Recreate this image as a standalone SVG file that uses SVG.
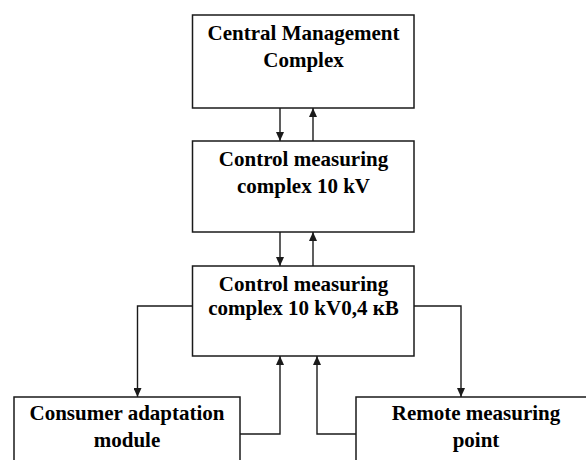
<svg xmlns="http://www.w3.org/2000/svg" width="586" height="460" viewBox="0 0 586 460">
<style>
.box{fill:#fff;stroke:#1a1a1a;stroke-width:1.5}
.lbl{font-family:"Liberation Serif","Times New Roman",serif;font-weight:bold;font-size:21px;fill:#000;text-anchor:middle}
.con{fill:none;stroke:#1a1a1a;stroke-width:1.4;marker-end:url(#ah)}
</style>
<defs>
<marker id="ah" markerUnits="userSpaceOnUse" markerWidth="10" markerHeight="8" refX="9" refY="4" orient="auto">
<path d="M0,0 L9,4 L0,8 z" fill="#1a1a1a"/>
</marker>
</defs>
<rect width="586" height="460" fill="#fff"/>
<g id="cmc">
<rect class="box" x="192.5" y="15" width="221.5" height="93"/>
<text class="lbl" x="303.5" y="39.5">Central Management</text>
<text class="lbl" x="303.5" y="67">Complex</text>
</g>
<g id="cmc10">
<rect class="box" x="192.5" y="141" width="221.5" height="91"/>
<text class="lbl" x="303.5" y="165.5">Control measuring</text>
<text class="lbl" x="303.5" y="193">complex 10 kV</text>
</g>
<g id="cmc04">
<rect class="box" x="192.5" y="266" width="221.5" height="90"/>
<text class="lbl" x="303.5" y="290.5">Control measuring</text>
<text class="lbl" x="303.5" y="315">complex 10 kV0,4 кВ</text>
</g>
<g id="cam">
<rect class="box" x="14" y="397" width="226" height="80"/>
<text class="lbl" x="127" y="420">Consumer adaptation</text>
<text class="lbl" x="127" y="446.5">module</text>
</g>
<g id="rmp">
<rect class="box" x="356" y="397" width="240" height="80"/>
<text class="lbl" x="476" y="420">Remote measuring</text>
<text class="lbl" x="476" y="446.5">point</text>
</g>
<g id="connectors">
<path class="con" d="M280,108 V141"/>
<path class="con" d="M313,141 V108"/>
<path class="con" d="M280,232 V266"/>
<path class="con" d="M313,266 V232"/>
<path class="con" d="M192.5,306 H137.5 V397"/>
<path class="con" d="M414,306 H461 V397"/>
<path class="con" d="M240,434 H280 V356"/>
<path class="con" d="M356,434 H317 V356"/>
</g>
</svg>
